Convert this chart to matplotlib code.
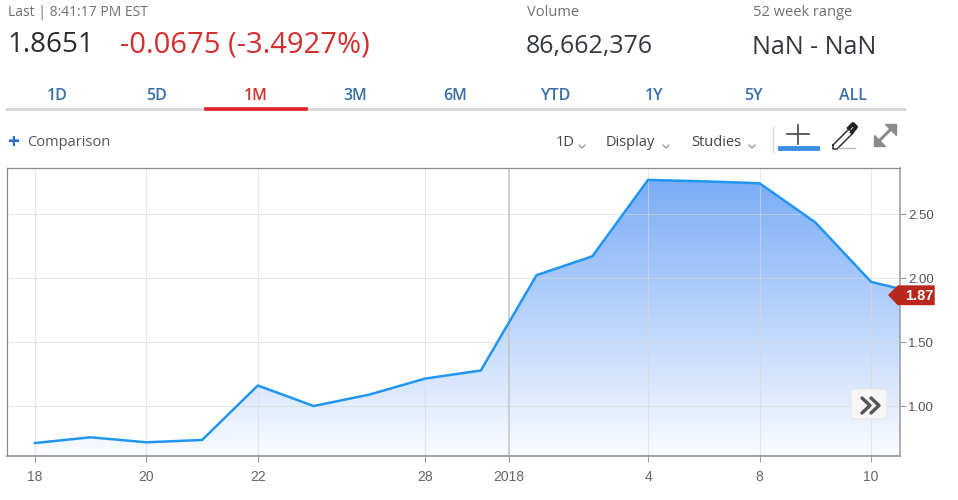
import numpy as np
import matplotlib
matplotlib.use("Agg")
import matplotlib.pyplot as plt
from matplotlib.patches import Polygon, FancyBboxPatch
from matplotlib.lines import Line2D

# ---------------- data ----------------
dates = ["Dec 18", "Dec 19", "Dec 20", "Dec 21", "Dec 22", "Dec 26", "Dec 27", "Dec 28",
         "Dec 29", "Jan 2", "Jan 3", "Jan 4", "Jan 5", "Jan 8", "Jan 9", "Jan 10", "Jan 11"]
prices = [0.713, 0.758, 0.719, 0.737, 1.162, 1.002, 1.091, 1.216,
          1.279, 2.023, 2.170, 2.766, 2.755, 2.740, 2.435, 1.971, 1.8651]
xtick_pos = [0, 2, 4, 7, 8.5, 11, 13, 15]
xtick_labels = ["18", "20", "22", "28", "2018", "4", "8", "10"]
ytick_vals = [1.00, 1.50, 2.00, 2.50]
last_label = "1.87"
tabs = ["1D", "5D", "1M", "3M", "6M", "YTD", "1Y", "5Y", "ALL"]
active_tab = "1M"

W, H = 958, 500
fig = plt.figure(figsize=(W / 100, H / 100), dpi=100)
fig.patch.set_facecolor("white")

FONT = ["Open Sans", "DejaVu Sans"]
TICKFONT = ["Liberation Sans", "DejaVu Sans"]


def fx(x):
    return x / W


def fy(y):
    return 1 - y / H


def ftext(x, y, s, **kw):
    kw.setdefault("family", FONT)
    fig.text(fx(x), fy(y), s, **kw)


def fline(xs, ys, **kw):
    fig.add_artist(Line2D([fx(v) for v in xs], [fy(v) for v in ys],
                          transform=fig.transFigure, **kw))


# ---------------- header ----------------
grey = "#707070"
dark = "#2b2b2b"
red = "#d32f2f"
ftext(8, 12, "Last | 8:41:17 PM EST", fontsize=10, color=grey, va="center")
ftext(7, 45, "1.8651", fontsize=20, color=dark, va="center", fontweight="medium")
ftext(120, 45, "-0.0675 (-3.4927%)", fontsize=21, color=red, va="center", fontweight="medium")
ftext(527, 12, "Volume", fontsize=10.5, color=grey, va="center")
ftext(526, 47, "86,662,376", fontsize=18, color="#333740", va="center", fontweight="medium")
ftext(753, 12, "52 week range", fontsize=10.5, color=grey, va="center")
ftext(752, 47, "NaN - NaN", fontsize=18, color="#333740", va="center", fontweight="medium")

tab_x = [57, 157, 256, 355, 455, 555, 654, 753, 853]
for t, x in zip(tabs, tab_x):
    ftext(x, 96, t, fontsize=11.5, color=red if t == active_tab else "#3a70a8",
          ha="center", va="center", fontweight="semibold")
fline([7, 904], [109, 109], color="#d9d9d9", lw=2.2)
fline([206, 306], [109, 109], color="#e0202a", lw=2.6)

# toolbar
ftext(13, 143, "+", fontsize=15, color="#2a6fc9", ha="center", va="center", fontweight="bold")
ftext(27, 142, "Comparison", fontsize=10.5, color="#555555", va="center")
for label, x in [("1D", 556), ("Display", 606), ("Studies", 691)]:
    ftext(x, 142, label, fontsize=10.5, color="#444444", va="center")
for cx in [582, 666, 752]:
    fline([cx - 3, cx, cx + 3], [145, 148, 145], color="#888888", lw=0.8)
fline([773, 773], [127, 152], color="#dddddd", lw=1)
fline([787, 809], [134, 134], color="#444444", lw=1.2)
fline([798, 798], [125, 144], color="#444444", lw=1.2)
fline([780, 817], [148, 148], color="#3c8ee6", lw=3.5)
# pencil
fline([833, 849, 853, 837, 833, 833], [145, 129, 133, 149, 149, 145], color="#333333", lw=1.1)
fline([849, 853, 856, 852], [128, 124, 127, 132], color="#222222", lw=2.8)
fline([838, 855], [148, 148], color="#bbbbbb", lw=1)
# expand arrows
fline([877, 893], [143, 127], color="#8a8a8a", lw=2.2)
fig.add_artist(Polygon([[fx(885), fy(124)], [fx(896), fy(124)], [fx(896), fy(135)]],
                       closed=True, transform=fig.transFigure, color="#8a8a8a"))
fig.add_artist(Polygon([[fx(874), fy(135)], [fx(874), fy(146)], [fx(885), fy(146)]],
                       closed=True, transform=fig.transFigure, color="#8a8a8a"))

# ---------------- chart ----------------
left, right, top, bottom = 7, 900, 168, 456
ax = fig.add_axes([fx(left), fy(bottom), fx(right - left), (bottom - top) / H])
x = np.arange(len(prices))
y = np.array(prices)
xmin, xmax = -0.5, 15.52
ymin, ymax = 0.612, 2.859

# gradient fill
ytop_grad = max(prices)
grad = np.linspace(0, 1, 256).reshape(-1, 1, 1)
c_top = np.array([122, 172, 247]) / 255
c_bot = np.array([250, 252, 255]) / 255
img = c_bot + (c_top - c_bot) * grad
im = ax.imshow(img, extent=[xmin, xmax, ymin, ytop_grad], origin="lower",
               aspect="auto", zorder=1, interpolation="bilinear")
poly = Polygon(np.column_stack([np.r_[x[0], x, x[-1]], np.r_[ymin, y, ymin]]),
               closed=True, facecolor="none", edgecolor="none")
ax.add_patch(poly)
im.set_clip_path(poly)
ax.set_xlim(xmin, xmax)
ax.set_ylim(ymin, ymax)

# grid
for v in ytick_vals:
    ax.axhline(v, color="#d8d8d8", lw=0.8, alpha=0.6, zorder=2)
for p, lab in zip(xtick_pos, xtick_labels):
    if lab == "2018":
        ax.axvline(p, color="#c4c4c4", lw=1.1, zorder=2)
    else:
        ax.axvline(p, color="#d8d8d8", lw=0.8, alpha=0.6, zorder=2)

ax.plot(x, y, color="#2196f0", lw=1.8, zorder=3)

for s in ["left", "top"]:
    ax.spines[s].set_color("#8a8a8a")
    ax.spines[s].set_linewidth(0.9)
ax.spines["right"].set_color("#a0a0a0")
ax.spines["right"].set_linewidth(1.2)
ax.spines["bottom"].set_color("#a0a0a0")
ax.spines["bottom"].set_linewidth(1.4)

ax.yaxis.tick_right()
ax.set_yticks(ytick_vals)
ax.set_yticklabels([f"{v:.2f}" for v in ytick_vals])
ax.set_xticks(xtick_pos)
ax.set_xticklabels(xtick_labels)
ax.tick_params(axis="y", direction="out", length=4, width=0.8, color="#999999",
               labelsize=9.5, labelcolor="#555555", pad=2)
ax.tick_params(axis="x", direction="out", length=4, width=0.8, color="#999999",
               labelsize=10, labelcolor="#666666", pad=6)
for lab in ax.get_xticklabels() + ax.get_yticklabels():
    lab.set_family(TICKFONT)

# last price label
ly = 295
lab_poly = [[fx(889), fy(ly)], [fx(898), fy(ly - 9)], [fx(934), fy(ly - 9)],
            [fx(934), fy(ly + 9.5)], [fx(898), fy(ly + 9.5)]]
fig.add_artist(Polygon(lab_poly, closed=True, transform=fig.transFigure,
                       facecolor="#b8261c", edgecolor="#b8261c", joinstyle="round", lw=1))
fig.text(fx(919), fy(ly + 0.5), last_label, fontsize=10.5, color="white", fontweight="bold",
         ha="center", va="center", family=TICKFONT)

# scroll button
fig.add_artist(FancyBboxPatch((fx(851), fy(419)), fx(36), (419 - 389) / H,
                              boxstyle="round,pad=0,rounding_size=0.005",
                              transform=fig.transFigure, facecolor="#f6f6f6",
                              edgecolor="#e6e6e6", lw=0.8, zorder=5))
for cx in [862, 871]:
    fig.add_artist(Line2D([fx(cx), fx(cx + 8), fx(cx)], [fy(398), fy(405.5), fy(413)],
                          transform=fig.transFigure, color="#555555", lw=2.4,
                          solid_capstyle="round", zorder=6))

fig.savefig("out.png", dpi=100, facecolor="white")
